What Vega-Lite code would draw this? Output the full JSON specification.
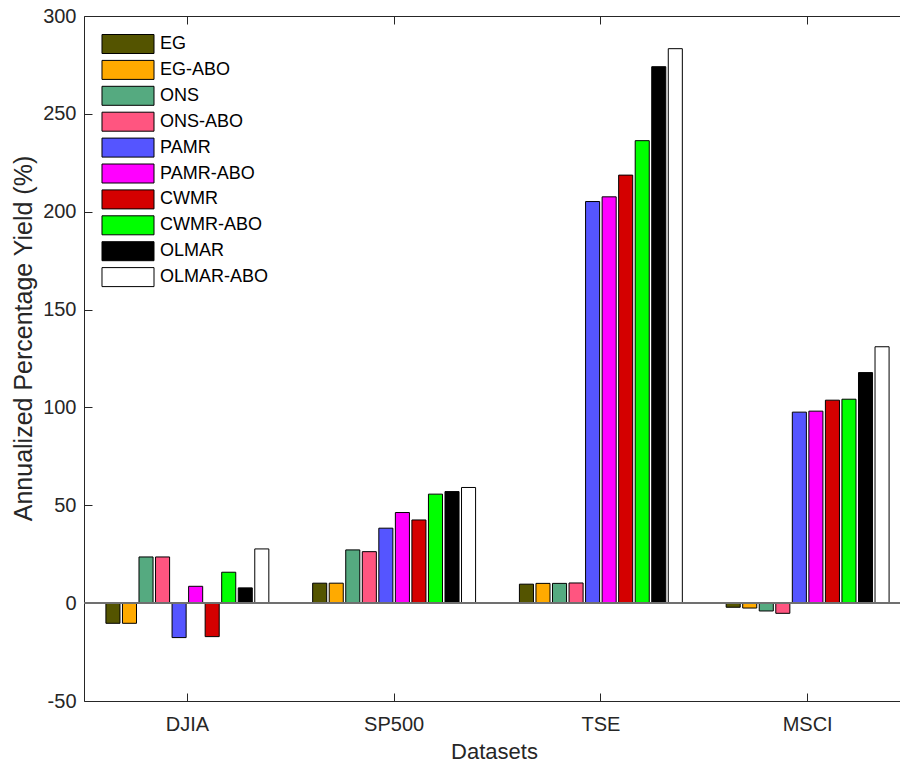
{
  "$schema": "https://vega.github.io/schema/vega-lite/v6.json",
  "width": 816,
  "height": 685,
  "autosize": {"type": "none"},
  "padding": {"left": 84, "top": 16, "right": 0, "bottom": 62},
  "background": "white",
  "config": {
    "view": {"stroke": null},
    "font": "Liberation Sans",
    "axis": {"labelFont": "Liberation Sans", "titleFont": "Liberation Sans", "labelColor": "#262626", "titleColor": "#262626", "domainColor": "#262626", "tickColor": "#262626", "titleFontWeight": "normal", "grid": false}
  },
  "data": {"values": [
    {"d": "DJIA", "m": "EG", "v": -10.3}, {"d": "DJIA", "m": "EG-ABO", "v": -10.3}, {"d": "DJIA", "m": "ONS", "v": 23.6}, {"d": "DJIA", "m": "ONS-ABO", "v": 23.6}, {"d": "DJIA", "m": "PAMR", "v": -17.6}, {"d": "DJIA", "m": "PAMR-ABO", "v": 8.6}, {"d": "DJIA", "m": "CWMR", "v": -17.1}, {"d": "DJIA", "m": "CWMR-ABO", "v": 15.8}, {"d": "DJIA", "m": "OLMAR", "v": 7.8}, {"d": "DJIA", "m": "OLMAR-ABO", "v": 27.7},
    {"d": "SP500", "m": "EG", "v": 10.2}, {"d": "SP500", "m": "EG-ABO", "v": 10.2}, {"d": "SP500", "m": "ONS", "v": 27.2}, {"d": "SP500", "m": "ONS-ABO", "v": 26.3}, {"d": "SP500", "m": "PAMR", "v": 38.3}, {"d": "SP500", "m": "PAMR-ABO", "v": 46.3}, {"d": "SP500", "m": "CWMR", "v": 42.5}, {"d": "SP500", "m": "CWMR-ABO", "v": 55.7}, {"d": "SP500", "m": "OLMAR", "v": 57.0}, {"d": "SP500", "m": "OLMAR-ABO", "v": 59.1},
    {"d": "TSE", "m": "EG", "v": 9.7}, {"d": "TSE", "m": "EG-ABO", "v": 10.1}, {"d": "TSE", "m": "ONS", "v": 10.1}, {"d": "TSE", "m": "ONS-ABO", "v": 10.3}, {"d": "TSE", "m": "PAMR", "v": 205.2}, {"d": "TSE", "m": "PAMR-ABO", "v": 207.6}, {"d": "TSE", "m": "CWMR", "v": 218.7}, {"d": "TSE", "m": "CWMR-ABO", "v": 236.3}, {"d": "TSE", "m": "OLMAR", "v": 274.1}, {"d": "TSE", "m": "OLMAR-ABO", "v": 283.3},
    {"d": "MSCI", "m": "EG", "v": -2.1}, {"d": "MSCI", "m": "EG-ABO", "v": -2.5}, {"d": "MSCI", "m": "ONS", "v": -4.0}, {"d": "MSCI", "m": "ONS-ABO", "v": -5.2}, {"d": "MSCI", "m": "PAMR", "v": 97.6}, {"d": "MSCI", "m": "PAMR-ABO", "v": 98.1}, {"d": "MSCI", "m": "CWMR", "v": 103.7}, {"d": "MSCI", "m": "CWMR-ABO", "v": 104.2}, {"d": "MSCI", "m": "OLMAR", "v": 117.8}, {"d": "MSCI", "m": "OLMAR-ABO", "v": 131.0}
  ]},
  "layer": [
    {
      "mark": {"type": "bar", "stroke": "#000000", "strokeWidth": 1},
      "encoding": {
        "x": {"field": "d", "type": "nominal", "sort": ["DJIA", "SP500", "TSE", "MSCI"],
              "scale": {"range": [0, 827], "paddingInner": 0.2, "paddingOuter": 0.1},
              "axis": {"orient": "bottom", "title": "Datasets", "labelAngle": 0, "labelFontSize": 20, "titleFontSize": 22,
                       "tickSize": -8, "labelPadding": 21, "domainWidth": 1, "tickWidth": 1,
                       "titleY": 57, "titleBaseline": "alphabetic", "titleX": 410}},
        "xOffset": {"field": "m", "type": "nominal",
                    "sort": ["EG", "EG-ABO", "ONS", "ONS-ABO", "PAMR", "PAMR-ABO", "CWMR", "CWMR-ABO", "OLMAR", "OLMAR-ABO"],
                    "scale": {"paddingInner": 0.15, "paddingOuter": 0.075}},
        "y": {"field": "v", "type": "quantitative",
              "scale": {"domain": [-50, 300], "nice": false, "zero": false},
              "axis": {"title": "Annualized Percentage Yield (%)", "values": [-50, 0, 50, 100, 150, 200, 250, 300],
                       "labelExpr": "datum.value + ''", "labelFontSize": 20, "titleFontSize": 25,
                       "tickSize": -8, "labelPadding": 16, "domainWidth": 1, "tickWidth": 1,
                       "titleX": -53, "titleY": 322, "titleBaseline": "alphabetic", "titleAlign": "center", "titleAngle": 270}},
        "color": {"field": "m", "type": "nominal",
                  "sort": ["EG", "EG-ABO", "ONS", "ONS-ABO", "PAMR", "PAMR-ABO", "CWMR", "CWMR-ABO", "OLMAR", "OLMAR-ABO"],
                  "scale": {"domain": ["EG", "EG-ABO", "ONS", "ONS-ABO", "PAMR", "PAMR-ABO", "CWMR", "CWMR-ABO", "OLMAR", "OLMAR-ABO"],
                            "range": ["#545400", "#FFAA00", "#55AA80", "#FF5580", "#5555FF", "#FF00FF", "#D40000", "#00FF00", "#000000", "#FFFFFF"]},
                  "legend": {"title": null, "orient": "none", "legendX": 34, "legendY": 18, "padding": 0,
                             "symbolType": "M-2.737,-1H2.737V1H-2.737Z", "symbolSize": 361,
                             "symbolStrokeColor": "#000000", "symbolStrokeWidth": 1, "symbolOpacity": 1,
                             "labelFontSize": 18, "labelColor": "#000000", "labelFont": "Liberation Sans",
                             "labelOffset": 22, "rowPadding": 1.9, "labelLimit": 300}}
      }
    },
    {
      "mark": {"type": "rule", "stroke": "#707070", "strokeWidth": 1.2},
      "encoding": {"y": {"datum": 0, "type": "quantitative"}}
    },
    {
      "mark": {"type": "bar", "opacity": 0},
      "encoding": {
        "x": {"field": "d", "type": "nominal", "sort": ["DJIA", "SP500", "TSE", "MSCI"],
              "axis": {"orient": "top", "title": null, "labels": false, "tickSize": -8, "domainWidth": 1, "tickWidth": 1}}
      }
    }
  ],
  "resolve": {"axis": {"x": "independent"}}
}
